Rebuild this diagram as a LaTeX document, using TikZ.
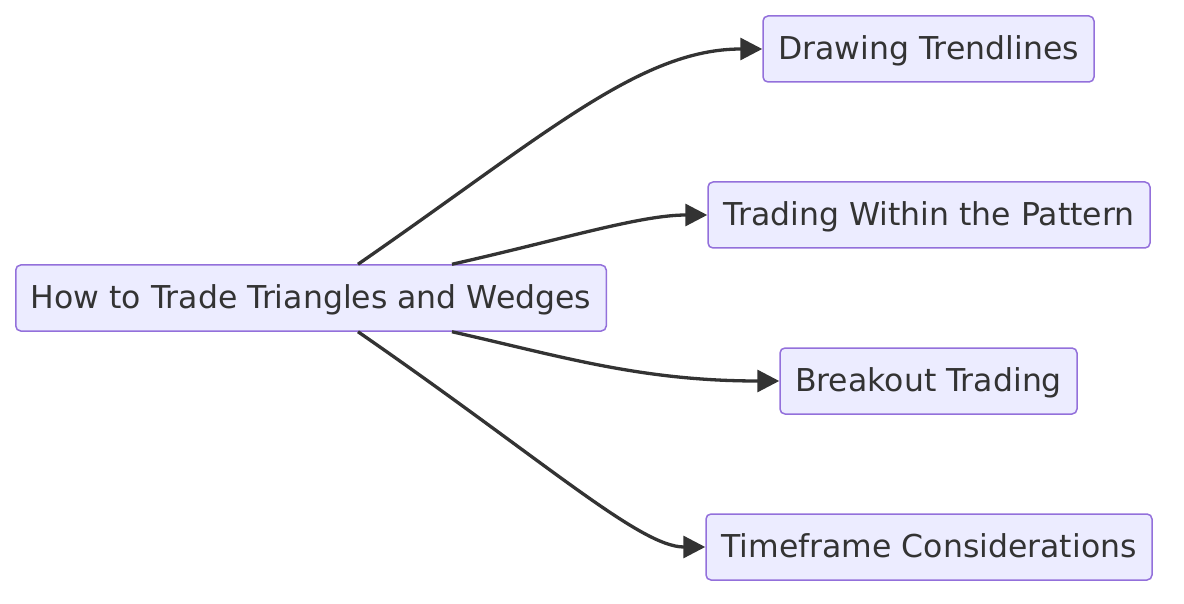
\documentclass[tikz,border=0pt]{standalone}
\usepackage{fontspec}
\setmainfont{DejaVu Sans}
\usepackage{xcolor}
\usepackage{tikz}
\usetikzlibrary{positioning, arrows.meta}
\usetikzlibrary{calc}
\definecolor{boxfill}{HTML}{ECECFF}
\definecolor{boxline}{HTML}{9370DB}
\definecolor{ink}{HTML}{333333}

\begin{document}
\begin{tikzpicture}[
        x=1pt, y=-1pt,
        box/.style={rectangle, rounded corners=5pt, minimum height=66pt, inner xsep=15pt, text height=26pt, text depth=5.5pt, text centered, draw=boxline, line width=1.5pt, fill=boxfill, text=ink, font=\fontsize{31.5}{36}\selectfont},
        arrow/.style={draw=ink, line width=3.3pt, -{Triangle[length=22pt,width=22pt]}}
    ]
        \useasboundingbox (0,0) rectangle (1184,604);

        % ===== 节点 =====
        \node (howTo) [box, minimum width=590pt] at (311,298) {How to Trade Triangles and Wedges};
        \node (trend) [box, minimum width=331pt] at (928.5,49) {Drawing Trendlines};
        \node (within) [box, minimum width=442pt] at (929,215) {Trading Within the Pattern};
        \node (breakout) [box, minimum width=297pt] at (928.5,381) {Breakout Trading};
        \node (timeframe) [box, minimum width=446pt] at (929,547) {Timeframe Considerations};

        % ===== 连线 =====
        \draw [arrow] ($(howTo.north)+(47,0)$) .. controls (545,135) and (640,49) .. (trend.west);
        \draw [arrow] ($(howTo.north)+(141,0)$) .. controls (560,240) and (640,215) .. (within.west);
        \draw [arrow] ($(howTo.south)+(141,0)$) .. controls (560,356) and (640,381) .. (breakout.west);
        \draw [arrow] ($(howTo.south)+(47,0)$) .. controls (545,461) and (640,547) .. (timeframe.west);

    \end{tikzpicture}
\end{document}
